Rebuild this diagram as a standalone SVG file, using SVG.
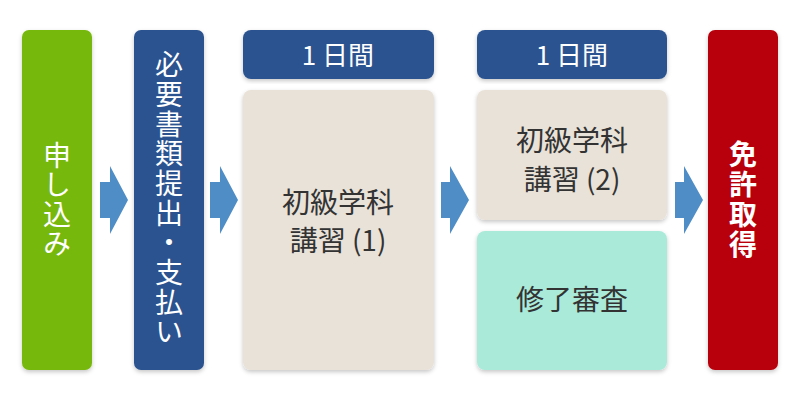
<svg xmlns="http://www.w3.org/2000/svg" width="800" height="400" viewBox="0 0 800 400">
<defs>
<filter id="sh" x="-10%" y="-10%" width="120%" height="120%">
<feDropShadow dx="0" dy="2" stdDeviation="2" flood-color="#000" flood-opacity="0.22"/>
</filter>
<style>
text{font-family:"Noto Sans CJK JP","Noto Sans",sans-serif;}
.v{fill:#fff;font-size:28px;text-anchor:middle;writing-mode:vertical-rl;}
.d{fill:#333;font-size:28px;text-anchor:middle;}
.h{fill:#fff;font-size:26px;text-anchor:middle;}
.arr{fill:#4F8DC6;}
</style>
</defs>
<rect width="800" height="400" fill="#fff"/>

<g id="apply">
<rect x="22" y="30" width="70" height="340" rx="7" fill="#77B80C" filter="url(#sh)"/>
<text class="v" x="57" y="200" letter-spacing="1.3">申し込み</text>
</g>

<g id="docs">
<rect x="134" y="30" width="70" height="340" rx="7" fill="#2C5390" filter="url(#sh)"/>
<text class="v" x="169" y="199" letter-spacing="1.7">必要書類提出・支払い</text>
</g>

<g id="day1">
<rect x="243" y="30" width="191" height="49" rx="8" fill="#2C5390" filter="url(#sh)"/>
<text class="h" x="338" y="65">1 日間</text>
</g>

<g id="course1">
<rect x="243" y="90" width="191" height="280" rx="8" fill="#E9E2D8" filter="url(#sh)"/>
<text class="d" x="338" y="213">初級学科</text>
<text class="d" x="338" y="251">講習 (1)</text>
</g>

<g id="day2">
<rect x="477" y="30" width="190" height="49" rx="8" fill="#2C5390" filter="url(#sh)"/>
<text class="h" x="572" y="65">1 日間</text>
</g>

<g id="course2">
<rect x="477" y="90" width="190" height="130" rx="8" fill="#E9E2D8" filter="url(#sh)"/>
<text class="d" x="572" y="151">初級学科</text>
<text class="d" x="572" y="190">講習 (2)</text>
</g>

<g id="review">
<rect x="477" y="231" width="190" height="139" rx="8" fill="#AAEAD9" filter="url(#sh)"/>
<text class="d" x="572" y="310">修了審査</text>
</g>

<g id="license">
<rect x="708" y="30" width="70" height="340" rx="7" fill="#B8000B" filter="url(#sh)"/>
<text class="v" x="743" y="200" font-weight="bold" letter-spacing="2">免許取得</text>
</g>

<g id="connectors">
<polygon class="arr" points="100,182 110,182 110,166 128,200 110,234 110,218 100,218"/>
<polygon class="arr" points="210,182 220,182 220,166 238,200 220,234 220,218 210,218"/>
<polygon class="arr" points="441,182 450,182 450,166 469,200 450,234 450,218 441,218"/>
<polygon class="arr" points="675,182 684,182 684,166 703,200 684,234 684,218 675,218"/>
</g>
</svg>
